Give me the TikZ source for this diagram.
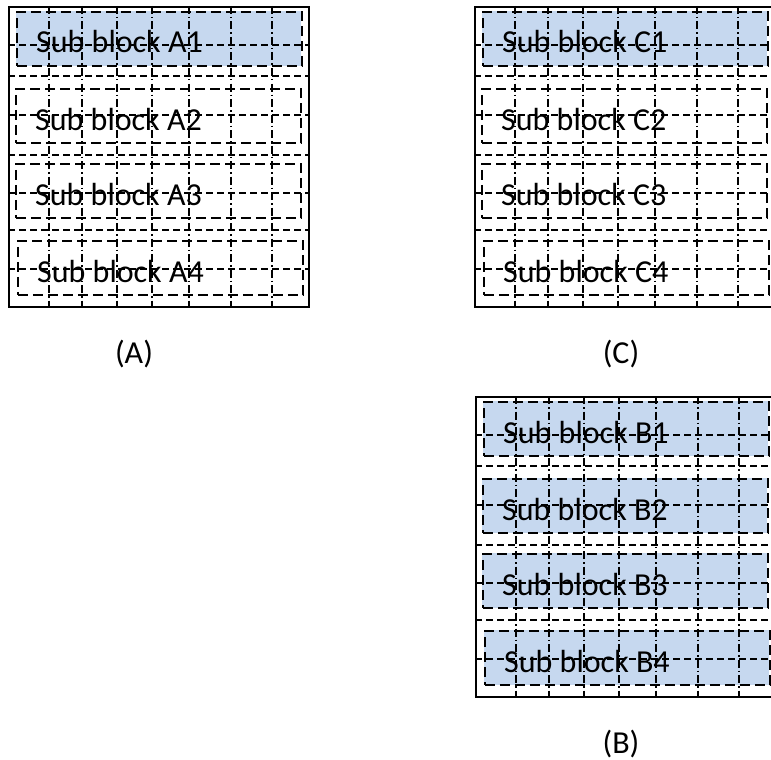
\documentclass[tikz,border=0pt]{standalone}
\usepackage{fontspec}
\setmainfont{Carlito}
\definecolor{blockfill}{RGB}{198,216,239}
\begin{document}
\begin{tikzpicture}[x=1pt, y=-1pt,
    frame/.style={draw, line width=2pt},
    gridh/.style={line width=1.6pt, dash pattern=on 7pt off 4pt},
    gridv/.style={line width=1.6pt, dash pattern=on 8pt off 3pt on 1.5pt off 3pt},
    subblock/.style={draw, line width=1.8pt, dash pattern=on 10pt off 5pt,
        minimum width=285pt, minimum height=54pt, inner sep=0pt, anchor=north west},
    blocktext/.style={anchor=base west, inner sep=0pt, font=\fontsize{32}{38}\selectfont},
    caption/.style={anchor=base, inner sep=0pt, font=\fontsize{32}{38}\selectfont}]
    \useasboundingbox (0,0) rectangle (771,760);

    % Three panels: name / shift / blocks filled / caption offset
    \foreach \p/\dx/\dy/\nfill/\cx in {A/0/0/1/-25, C/466/0/1/-4, B/467/390/4/-5} {
        \begin{scope}[shift={(\dx,\dy)}]
            % Filled blocks go first so the grid shows over them
            \foreach \k/\xa/\ya in {1/16/11, 2/15/88, 3/15/163, 4/17/240} {
                \ifnum\k>\nfill\else
                    \fill[blockfill] (\xa,\ya) rectangle ++(285,55);
                \fi
            }
            % Grid
            \foreach \x in {49,82,117,152,189,231,272}
                \draw[gridv] (\x,6) -- (\x,306);
            \foreach \y in {45,76,115,155,193,230,269}
                \draw[gridh] (8,\y) -- (308,\y);
            % Sub blocks with their text
            \foreach \k/\xa/\ya in {1/16/11, 2/15/88, 3/15/163, 4/17/240} {
                \node[subblock] (\p\k) at (\xa,\ya) {};
                \node[blocktext] (\p\k txt) at ([xshift=20pt, yshift=-42pt]\p\k.north west) {Sub block \p\k};
            }
            % Outer frame
            \node[frame, minimum width=300pt, minimum height=300pt, inner sep=0pt,
                anchor=north west] (\p frame) at (8,6) {};
            % Caption
            \node[caption] (\p cap) at ([xshift=\cx pt, yshift=-55pt]\p frame.south) {(\p)};
        \end{scope}
    }
\end{tikzpicture}
\end{document}
